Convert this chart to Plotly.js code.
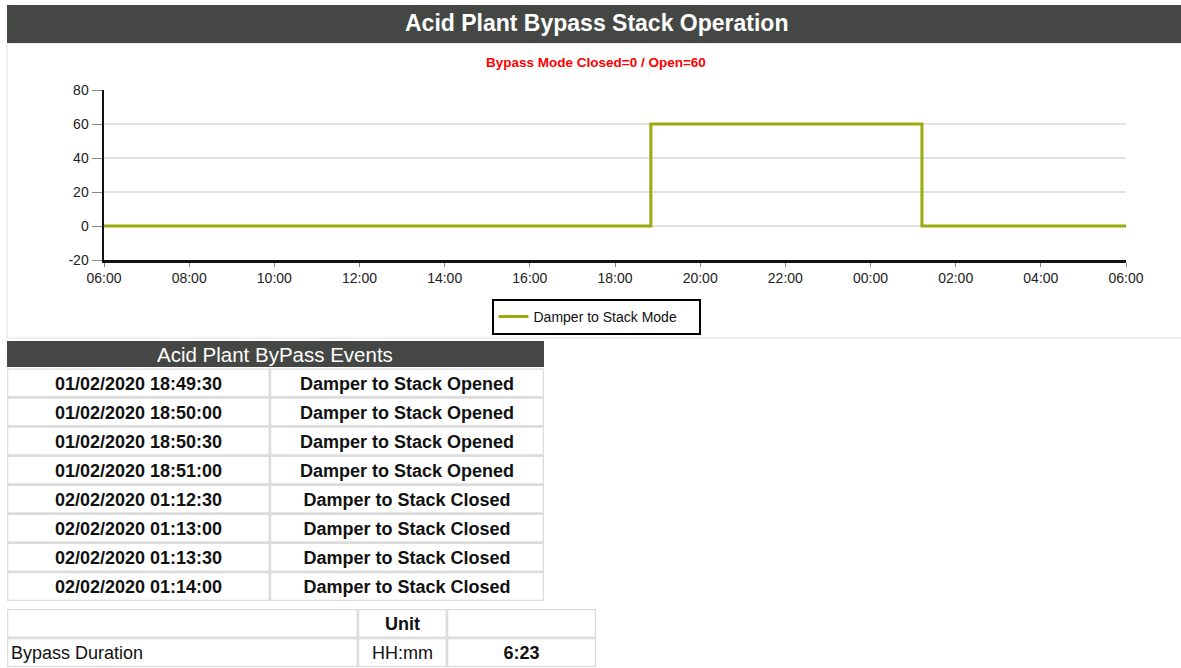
<!DOCTYPE html>
<html><head><meta charset="utf-8">
<script src="https://cdn.plot.ly/plotly-3.0.1.min.js"></script>
<style>html,body{margin:0;padding:0;background:#fff;overflow:hidden;} #chart{width:1181px;height:668px;}</style>
</head><body><div id="chart"></div>
<script>
// ---- data ----
const modeTimes = ["2020-02-01 06:00:00", "2020-02-01 18:50:30", "2020-02-02 01:12:30", "2020-02-02 06:00:00"];
const modeValues = [0, 60, 0, 0];
const seriesName = "Damper to Stack Mode";
const xRange = ["2020-02-01 06:00:00", "2020-02-02 06:00:00"];
const yTickVals = [-20, 0, 20, 40, 60, 80];
const yTickText = ["-20", "0", "20", "40", "60", "80"];
const eventTimes = ["01/02/2020 18:49:30", "01/02/2020 18:50:00", "01/02/2020 18:50:30", "01/02/2020 18:51:00",
                    "02/02/2020 01:12:30", "02/02/2020 01:13:00", "02/02/2020 01:13:30", "02/02/2020 01:14:00"];
const eventTexts = ["Damper to Stack Opened", "Damper to Stack Opened", "Damper to Stack Opened", "Damper to Stack Opened",
                    "Damper to Stack Closed", "Damper to Stack Closed", "Damper to Stack Closed", "Damper to Stack Closed"];
const durationHeader = ["", "Unit", ""];
const durationLabels = ["Bypass Duration"];
const durationUnits = ["HH:mm"];
const durationValues = ["6:23"];
const pageTitle = "Acid Plant Bypass Stack Operation";
const chartSubtitle = "Bypass Mode Closed=0 / Open=60";
const eventsTitle = "Acid Plant ByPass Events";

// ---- layout helpers ----
const W = 1181, H = 668;
const px = x => x / W;
const py = y => 1 - y / H;
const FONT = "Arial, 'Liberation Sans', sans-serif";
const DARK = "#454744";
const CELL_LINE = "#dcdcdc";
const TEXT_DY = 0.085; // vertical nudge of cell text, in row units
const b = s => s === "" ? "" : "<b>" + s + "</b>";

// table column widths (style, in px)
const evColW = [263, 274];
const duColW = [351, 89, 149];
const starts = w => w.reduce((a, v, i) => (a.push(i ? a[i - 1] + w[i - 1] : 0), a), []);
const evStart = starts(evColW), duStart = starts(duColW);

const traces = [];
traces.push({
  type: "scatter", mode: "lines", name: seriesName,
  x: modeTimes, y: modeValues,
  line: {shape: "hv", color: "#9bab0f", width: 3},
  xaxis: "x", yaxis: "y", showlegend: true, hoverinfo: "x+y"
});

const shapes = [
  {type: "rect", xref: "paper", yref: "paper", x0: px(7), x1: px(1185), y0: py(338), y1: py(43),
   line: {color: "#dddddd", width: 1}, fillcolor: "rgba(0,0,0,0)", layer: "below"},
  {type: "rect", xref: "paper", yref: "paper", x0: px(7), x1: px(1185), y0: py(43), y1: py(5),
   line: {width: 0}, fillcolor: DARK, layer: "below"},
  {type: "rect", xref: "paper", yref: "paper", x0: px(7), x1: px(544), y0: py(367), y1: py(341),
   line: {width: 0}, fillcolor: DARK, layer: "below"}
];

// events table: cells + text
const evCols = [eventTimes, eventTexts];
evCols.forEach((col, c) => {
  col.forEach((v, r) => {
    shapes.push({type: "rect", xref: "x2", yref: "y2",
      x0: evStart[c], x1: evStart[c] + evColW[c], y0: r, y1: r + 1,
      line: {color: CELL_LINE, width: 2.5}, fillcolor: "#ffffff", layer: "below"});
  });
  traces.push({
    type: "scatter", mode: "text", xaxis: "x2", yaxis: "y2", showlegend: false, hoverinfo: "skip",
    x: col.map(() => evStart[c] + evColW[c] / 2),
    y: col.map((v, r) => r + 0.5 + TEXT_DY),
    text: col.map(b), textposition: "middle center", cliponaxis: false,
    textfont: {family: FONT, size: 18, color: "#111"}
  });
});

// duration table
const duRows = [durationHeader.map(b),
  durationLabels.map((l, i) => [l, durationUnits[i], b(durationValues[i])])[0]];
const duAlign = ["left", "center", "center"];
for (let c = 0; c < duColW.length; c++) {
  duRows.forEach((row, r) => {
    shapes.push({type: "rect", xref: "x3", yref: "y3",
      x0: duStart[c], x1: duStart[c] + duColW[c], y0: r, y1: r + 1,
      line: {color: CELL_LINE, width: 2.5}, fillcolor: "#ffffff", layer: "below"});
  });
  traces.push({
    type: "scatter", mode: "text", xaxis: "x3", yaxis: "y3", showlegend: false, hoverinfo: "skip",
    x: duRows.map(() => duAlign[c] === "left" ? duStart[c] + 4 : duStart[c] + duColW[c] / 2),
    y: duRows.map((row, r) => r + 0.5 + TEXT_DY),
    text: duRows.map(row => row[c]),
    textposition: duAlign[c] === "left" ? "middle right" : "middle center", cliponaxis: false,
    textfont: {family: FONT, size: 18, color: "#111"}
  });
}

const hiddenAxis = (domain, range) => ({domain, range, visible: false, fixedrange: true,
  showgrid: false, zeroline: false});

const layout = {
  width: W, height: H,
  margin: {l: 0, r: 0, t: 0, b: 0, pad: 0},
  paper_bgcolor: "#ffffff", plot_bgcolor: "rgba(0,0,0,0)",
  font: {family: FONT, size: 14, color: "#222"},
  showlegend: true,
  legend: {
    orientation: "h", x: px(596), xanchor: "center", y: py(299), yanchor: "top",
    bordercolor: "#000", borderwidth: 2, bgcolor: "#fff", itemwidth: 30,
    entrywidth: 160, entrywidthmode: "pixels",
    font: {family: FONT, size: 14, color: "#111"}
  },
  xaxis: {
    domain: [px(104), px(1126)],
    type: "date", range: xRange,
    tick0: xRange[0], dtick: 7200000, tickformat: "%H:%M",
    showgrid: false, zeroline: false,
    showline: true, linecolor: "#111", linewidth: 2.5,
    ticks: "outside", ticklen: 4, tickcolor: "#888", tickwidth: 1,
    tickfont: {family: FONT, size: 14, color: "#222"},
    fixedrange: true
  },
  yaxis: {
    domain: [py(260), py(90)],
    range: [-20, 80],
    tickvals: yTickVals, ticktext: yTickText,
    showgrid: true, gridcolor: "#e2e2e2", gridwidth: 2,
    zeroline: false,
    showline: true, linecolor: "#111", linewidth: 2.5,
    ticks: "outside", ticklen: 10, tickcolor: "#888", tickwidth: 1,
    tickfont: {family: FONT, size: 14, color: "#222"},
    fixedrange: true
  },
  xaxis2: Object.assign(hiddenAxis([px(7), px(544)], [0, evColW[0] + evColW[1]]), {anchor: "y2"}),
  yaxis2: Object.assign(hiddenAxis([py(601), py(368.5)], [eventTimes.length, 0]), {anchor: "x2"}),
  xaxis3: Object.assign(hiddenAxis([px(7), px(596)], [0, duColW.reduce((a, v) => a + v, 0)]), {anchor: "y3"}),
  yaxis3: Object.assign(hiddenAxis([py(667), py(609)], [2, 0]), {anchor: "x3"}),
  shapes,
  annotations: [
    {xref: "paper", yref: "paper", x: px(596), y: py(23), text: "<b>" + pageTitle + "</b>", showarrow: false,
     xanchor: "center", yanchor: "middle", font: {family: FONT, size: 23, color: "#ffffff"}},
    {xref: "paper", yref: "paper", x: px(596), y: py(62), text: "<b>" + chartSubtitle + "</b>", showarrow: false,
     xanchor: "center", yanchor: "middle", font: {family: FONT, size: 13.5, color: "#ff0000"}},
    {xref: "paper", yref: "paper", x: px(275), y: py(354), text: eventsTitle, showarrow: false,
     xanchor: "center", yanchor: "middle", font: {family: FONT, size: 20.5, color: "#ffffff"}}
  ]
};

Plotly.newPlot("chart", traces, layout, {displayModeBar: false, staticPlot: true});
</script>
</body></html>
